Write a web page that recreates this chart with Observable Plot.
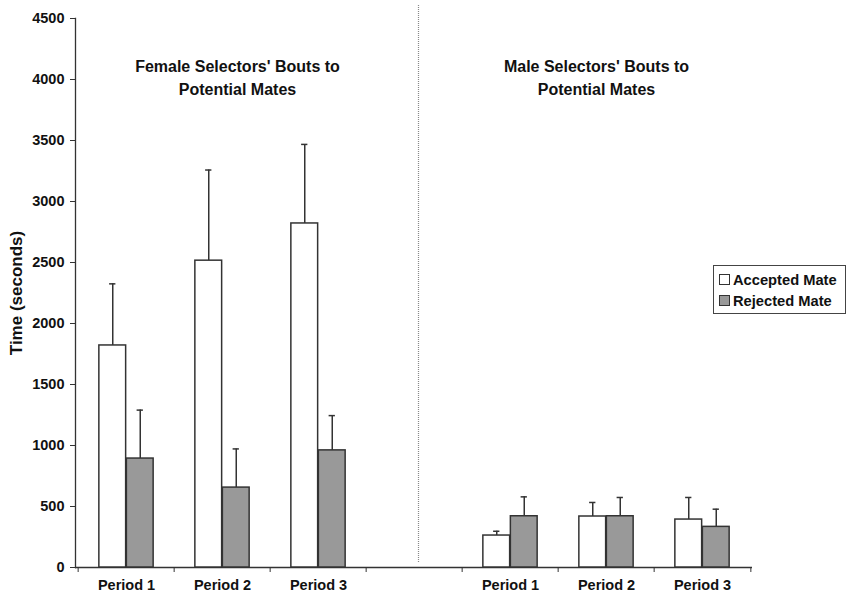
<!DOCTYPE html>
<html>
<head>
<meta charset="utf-8">
<script src="https://cdn.jsdelivr.net/npm/d3@7"></script>
<script src="https://cdn.jsdelivr.net/npm/@observablehq/plot@0.6"></script>
<style>
  body { margin: 0; background: #fff; }
  #wrap { position: relative; width: 848px; height: 603px; font-family: "Liberation Sans", Arial, sans-serif; }
  #legend { position: absolute; left: 713px; top: 265px; width: 133px; height: 49px; border: 1px solid #444; box-sizing: border-box; padding: 4px 0 0 5px; font-weight: bold; font-size: 14.7px; line-height: 21px; color: #111; }
  .sw { display: inline-block; width: 9px; height: 9px; border: 1px solid #333; margin-right: 3px; vertical-align: 0px; }
</style>
</head>
<body>
<div id="wrap"></div>
<script>
// ---- data ----
const groupKeys = ["F1", "F2", "F3", "gap", "M1", "M2", "M3"];
const tickLabels = ["Period 1", "Period 2", "Period 3", "", "Period 1", "Period 2", "Period 3"];
const series = ["Accepted Mate", "Rejected Mate"];
const acceptedMean = [1820, 2515, 2820, null, 262, 418, 393];
const acceptedSE   = [505, 743, 648, null, 35, 115, 181];
const rejectedMean = [893, 655, 960, null, 420, 420, 333];
const rejectedSE   = [397, 317, 285, null, 159, 154, 145];
const yTicks = [0, 500, 1000, 1500, 2000, 2500, 3000, 3500, 4000, 4500];
const femaleTitle = "Female Selectors' Bouts to\nPotential Mates";
const maleTitle = "Male Selectors' Bouts to\nPotential Mates";

// ---- table ----
const rows = [];
groupKeys.forEach((k, i) => {
  if (acceptedMean[i] == null) return;
  rows.push({group: k, series: series[0], mean: acceptedMean[i], se: acceptedSE[i]});
  rows.push({group: k, series: series[1], mean: rejectedMean[i], se: rejectedSE[i]});
});
const acc = rows.filter(d => d.series === series[0]);
const rej = rows.filter(d => d.series === series[1]);

const W = 848, H = 603, mL = 75, mR = 96, mT = 18, mB = 36;
const bw = (W - mL - mR) / groupKeys.length;
const barW = 27.5, capW = 7;
const labelOf = k => tickLabels[groupKeys.indexOf(k)];
const stroke = "#333";
const titleStyle = {y: 4000, text: d => d, dy: -3, fontSize: 16, fontWeight: "bold", lineHeight: 1.4, fill: "#111"};

const chart = Plot.plot({
  width: W, height: H,
  marginLeft: mL, marginRight: mR, marginTop: mT, marginBottom: mB,
  style: {fontFamily: "'Liberation Sans', Arial, sans-serif", fontWeight: "bold", fontSize: "14.5px", color: "#111", background: "#fff"},
  x: {type: "band", domain: groupKeys, padding: 0},
  y: {domain: [0, 4500]},
  marks: [
    Plot.frame({anchor: "left", stroke: stroke, strokeWidth: 1.3}),
    Plot.ruleY([0], {stroke: stroke, strokeWidth: 1.3}),
    Plot.ruleX(["gap"], {x: d => d, stroke: "#888", strokeDasharray: "1,1", strokeWidth: 1.2, dx: 4, insetTop: -13, insetBottom: 4}),
    Plot.axisY({ticks: yTicks, tickSize: 5, tickPadding: 6, tickFormat: d => String(d), label: null, fontSize: 14.5, fontWeight: "bold", stroke: stroke}),
    Plot.axisY({ticks: [], label: "Time (seconds)", labelAnchor: "center", labelArrow: "none", labelOffset: 66, fontSize: 17, fontWeight: "bold"}),
    Plot.axisX({ticks: groupKeys, tickSize: 0, tickPadding: 12, tickFormat: labelOf, label: null, fontSize: 14.5, fontWeight: "bold"}),
    Plot.axisX({ticks: groupKeys, tickSize: 5, tickFormat: () => "", label: null, dx: -bw / 2, stroke: stroke}),
    Plot.axisX({ticks: [groupKeys[groupKeys.length - 1]], tickSize: 5, tickFormat: () => "", label: null, dx: bw / 2, stroke: stroke}),
    // error bars
    Plot.ruleX(acc, {x: "group", y1: "mean", y2: d => d.mean + d.se, dx: -barW / 2, stroke: stroke, strokeWidth: 1.5}),
    Plot.ruleX(rej, {x: "group", y1: "mean", y2: d => d.mean + d.se, dx: barW / 2, stroke: stroke, strokeWidth: 1.5}),
    Plot.tickY(acc, {x: "group", y: d => d.mean + d.se, dx: -barW / 2, inset: bw / 2 - capW / 2, stroke: stroke, strokeWidth: 1.5}),
    Plot.tickY(rej, {x: "group", y: d => d.mean + d.se, dx: barW / 2, inset: bw / 2 - capW / 2, stroke: stroke, strokeWidth: 1.5}),
    // bars
    Plot.barY(acc, {x: "group", y: "mean", fill: "#fff", stroke: stroke, strokeWidth: 1.5, insetLeft: bw / 2 - barW, insetRight: bw / 2}),
    Plot.barY(rej, {x: "group", y: "mean", fill: "#999", stroke: stroke, strokeWidth: 1.5, insetLeft: bw / 2, insetRight: bw / 2 - barW}),
    // panel titles
    Plot.text([femaleTitle], {...titleStyle, x: () => "F2", dx: 15}),
    Plot.text([maleTitle], {...titleStyle, x: () => "M2", dx: -10})
  ]
});
document.getElementById("wrap").appendChild(chart);

const legend = document.createElement("div");
legend.id = "legend";
legend.innerHTML = `<div><span class="sw" style="background:#fff"></span>${series[0]}</div><div><span class="sw" style="background:#999"></span>${series[1]}</div>`;
document.getElementById("wrap").appendChild(legend);
</script>
</body>
</html>
